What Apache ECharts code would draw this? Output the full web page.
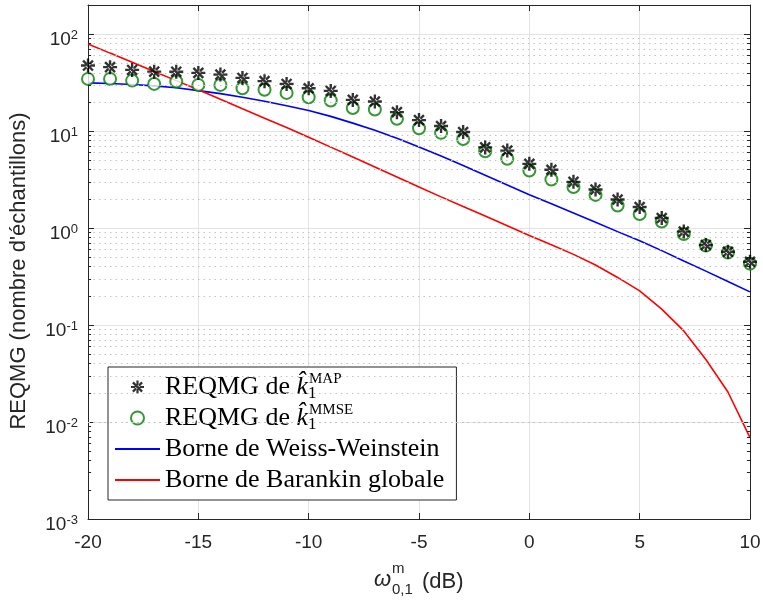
<!DOCTYPE html>
<html><head><meta charset="utf-8">
<script src="https://cdn.jsdelivr.net/npm/echarts@6/dist/echarts.min.js"></script>
<style>html,body{margin:0;padding:0;background:#fff}#c{width:763px;height:602px}</style>
</head><body><div id="c"></div>
<script>
// ---- data ----
const snr = [-20,-19,-18,-17,-16,-15,-14,-13,-12,-11,-10,-9,-8,-7,-6,-5,-4,-3,-2,-1,0,1,2,3,4,5,6,7,8,9,10];
const mapRmse = [47.5,45.7,42.8,41.1,41.0,39.9,38.3,35.4,32.8,30.7,27.7,26.0,21.0,20.2,15.7,13.0,11.3,9.8,6.8,6.3,4.6,4.0,3.0,2.5,1.97,1.65,1.27,0.92,0.67,0.57,0.45];
const mmseRmse = [34.6,34.6,33.2,30.7,32.5,30.0,30.0,27.7,26.7,24.8,22.4,20.7,17.3,16.7,13.4,10.7,9.6,8.3,6.2,5.2,3.93,3.17,2.65,2.2,1.71,1.4,1.17,0.87,0.66,0.56,0.43];
const wwBound = [31.5,31.0,30.3,29.3,28.0,26.2,24.4,22.4,20.3,18.3,16.3,14.2,12.1,10.2,8.43,6.87,5.53,4.42,3.51,2.79,2.21,1.78,1.43,1.15,0.92,0.741,0.586,0.459,0.36,0.282,0.22];
const barankinBound = [79.4,63.8,51.3,41.3,33.2,26.7,21.3,17.0,13.6,10.9,8.67,6.84,5.40,4.26,3.36,2.65,2.10,1.67,1.33,1.06,0.84,0.675,0.536,0.416,0.31,0.225,0.146,0.087,0.0442,0.0204,0.0069];
const xTickLabels = [-20,-15,-10,-5,0,5,10];
const yDecadeExponents = [-3,-2,-1,0,1,2];
const yMax = 200;
const legendNames = ['MAP','MMSE','Borne de Weiss-Weinstein','Borne de Barankin globale'];

// ---- helpers ----
const pts = vals => snr.map((x,i)=>[x, vals[i]]);
const minorVals = [];
yDecadeExponents.forEach(e => { for (let m=2;m<=9;m++){ const v = m*Math.pow(10,e); if (v < yMax) minorVals.push(+v.toPrecision(3)); } });
const xMin = xTickLabels[0], xMax = xTickLabels[xTickLabels.length-1];
const yMin = Math.pow(10, yDecadeExponents[0]);

const asterisk = 'path://M-0.17,-1L0.17,-1L0.17,1L-0.17,1Z M-1,-0.17L1,-0.17L1,0.17L-1,0.17Z M-0.587,-0.827L0.827,0.587L0.587,0.827L-0.827,-0.587Z M-0.587,0.827L0.827,-0.587L0.587,-0.827L-0.827,0.587Z';
const lineIcon = 'path://M0,0L45,0L45,1.8L0,1.8Z';

const axisCol = '#262626';
const sans = 'Liberation Sans';
const serif = 'Liberation Serif';

const minorGrid = minorVals.map(v => ({yAxis: v}));
const minorTicks = [];
minorVals.forEach(v => {
  minorTicks.push([{coord:[xMin, v]},{coord:[xMin+0.14, v]}]);
  minorTicks.push([{coord:[xMax-0.14, v]},{coord:[xMax, v]}]);
});

const legendText = {
  'MAP': '{t|REQMG de }{k|k\u0302}{sb|1}{sp|MAP}',
  'MMSE': '{t|REQMG de }{k|k\u0302}{sb|1}{sp|MMSE}',
  'Borne de Weiss-Weinstein': '{t|Borne de Weiss-Weinstein}',
  'Borne de Barankin globale': '{t|Borne de Barankin globale}'
};

function txt(text, x, y, size, italic) {
  return {type: 'text', x: x, y: y, silent: true,
    style: {text: text, fill: axisCol, fontFamily: sans, fontSize: size, fontStyle: italic ? 'italic' : 'normal',
            align: 'left', verticalAlign: 'middle'}};
}

const chart = echarts.init(document.getElementById('c'), null, {renderer:'canvas'});
const option = {
  animation: false,
  backgroundColor: '#fff',
  grid: {left: 88, right: 13, top: 5, bottom: 83, containLabel: false, outerBoundsMode: 'none'},
  graphic: [
    txt('\u03c9', 374, 580, 22, true),
    txt('m', 392, 569, 15, false),
    txt('0,1', 392, 590, 15, false),
    txt('(dB)', 422, 582, 22, false)
  ],
  xAxis: [{
    type: 'value', min: xMin, max: xMax, interval: 5, position: 'bottom',
    axisLine: {show: true, onZero: false, lineStyle: {color: axisCol, width: 1}},
    axisTick: {show: true, inside: true, length: 6, lineStyle: {color: axisCol}},
    axisLabel: {color: axisCol, fontFamily: sans, fontSize: 19, margin: 14},
    splitLine: {show: true, lineStyle: {color: '#e3e3e3', width: 1}}
  }, {
    type: 'value', min: xMin, max: xMax, interval: 5, position: 'top',
    axisLine: {show: true, onZero: false, lineStyle: {color: axisCol, width: 1}},
    axisTick: {show: true, inside: true, length: 6, lineStyle: {color: axisCol}},
    axisLabel: {show: false}, splitLine: {show: false}
  }],
  yAxis: [{
    type: 'log', logBase: 10, min: yMin, max: yMax, position: 'left',
    axisLine: {show: true, onZero: false, lineStyle: {color: axisCol, width: 1}},
    axisTick: {show: true, inside: true, length: 6, lineStyle: {color: axisCol}},
    axisLabel: {
      showMaxLabel: false, margin: 10, padding: [10,0,0,0],
      formatter: v => '{b|10}{s|' + Math.round(Math.log10(v)) + '}',
      rich: {
        b: {fontFamily: sans, fontSize: 19, lineHeight: 20, verticalAlign: 'bottom', color: axisCol},
        s: {fontFamily: sans, fontSize: 13, lineHeight: 6, verticalAlign: 'top', color: axisCol}
      }
    },
    splitLine: {show: true, lineStyle: {color: '#e3e3e3', width: 1}},
    name: "REQMG (nombre d'\u00e9chantillons)", nameLocation: 'middle', nameGap: 58,
    nameTextStyle: {fontFamily: sans, fontSize: 22, color: axisCol, padding: [0, 18, 0, 0]}
  }, {
    type: 'log', logBase: 10, min: yMin, max: yMax, position: 'right',
    axisLine: {show: true, onZero: false, lineStyle: {color: axisCol, width: 1}},
    axisTick: {show: true, inside: true, length: 6, lineStyle: {color: axisCol}},
    axisLabel: {show: false}, splitLine: {show: false}
  }],
  legend: {
    orient: 'vertical', left: 108, top: 367, padding: [5, 12, 5, 7],
    itemGap: 1, itemWidth: 45, itemHeight: 13, selectedMode: false,
    backgroundColor: '#fff', borderColor: axisCol, borderWidth: 1, borderRadius: 0,
    data: [
      {name: legendNames[0]},
      {name: legendNames[1]},
      {name: legendNames[2], icon: lineIcon},
      {name: legendNames[3], icon: lineIcon}
    ],
    formatter: n => legendText[n],
    textStyle: {
      color: '#000', fontFamily: serif, fontSize: 26, lineHeight: 30,
      rich: {
        t: {fontFamily: serif, fontSize: 26, lineHeight: 30, color: '#000'},
        k: {fontFamily: serif, fontStyle: 'italic', fontSize: 26, lineHeight: 30, color: '#000'},
        sb: {fontFamily: serif, fontSize: 17, lineHeight: 10, verticalAlign: 'bottom', width: 1, color: '#000'},
        sp: {fontFamily: serif, fontSize: 15, lineHeight: 16, verticalAlign: 'top', color: '#000'}
      }
    }
  },
  series: [{
    name: 'Borne de Weiss-Weinstein', type: 'line', data: pts(wwBound),
    symbol: 'none', showSymbol: false, smooth: false,
    lineStyle: {color: '#0000ff', width: 1.6}, itemStyle: {color: '#0000ff'}, z: 3,
    markLine: {
      silent: true, symbol: ['none','none'], label: {show: false}, animation: false,
      lineStyle: {color: '#c4c4c4', type: [1.5, 4], width: 1},
      data: minorGrid
    }
  }, {
    name: 'Borne de Barankin globale', type: 'line', data: pts(barankinBound),
    symbol: 'none', showSymbol: false,
    lineStyle: {color: '#ff0000', width: 1.6}, itemStyle: {color: '#ff0000'}, z: 3,
    markLine: {
      silent: true, symbol: ['none','none'], label: {show: false}, animation: false,
      lineStyle: {color: axisCol, type: 'solid', width: 1},
      data: minorTicks
    }
  }, {
    name: 'MMSE', type: 'scatter', data: pts(mmseRmse),
    symbol: 'emptyCircle', symbolSize: 12,
    itemStyle: {color: '#008000', borderColor: '#008000', borderWidth: 1.6}, z: 4
  }, {
    name: 'MAP', type: 'scatter', data: pts(mapRmse),
    symbol: asterisk, symbolSize: 14,
    itemStyle: {color: '#000'}, z: 5
  }]
};
chart.setOption(option);
</script>
</body></html>
